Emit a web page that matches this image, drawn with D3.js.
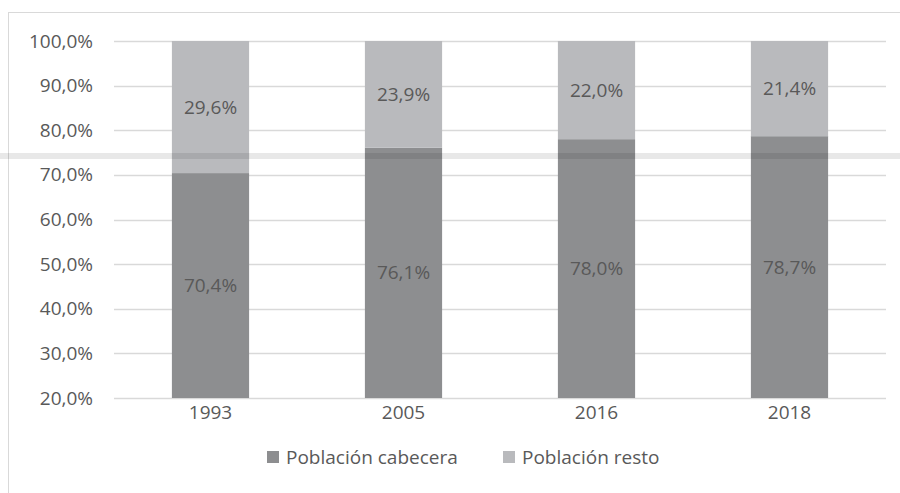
<!DOCTYPE html>
<html>
<head>
<meta charset="utf-8">
<script src="https://cdn.jsdelivr.net/npm/d3@7"></script>
<style>
  body { margin: 0; background: #fff; }
  svg { display: block; font-family: "Open Sans", "Noto Sans", sans-serif; }
</style>
</head>
<body>
<div id="chart"></div>
<script>
const [width, height] = [900, 493];

// data
const years = ["1993", "2005", "2016", "2018"];
const cabecera = [70.4, 76.1, 78.0, 78.7];
const resto = [29.6, 23.9, 22.0, 21.4];
const yTicks = [20, 30, 40, 50, 60, 70, 80, 90, 100];
const seriesNames = ["Población cabecera", "Población resto"];
const colors = ["#8d8e90", "#b9babd"];

const margin = { top: 41, right: 14, bottom: 95, left: 114 };
const fontSize = "19px";

const svg = d3.select("#chart")
  .append("svg")
  .attr("width", width)
  .attr("height", height);

// chart border
svg.append("rect")
  .attr("x", 8.5).attr("y", 12.5)
  .attr("width", 900).attr("height", 500)
  .attr("fill", "none")
  .attr("stroke", "#d9d9d9");

const x = d3.scaleBand()
  .domain(years)
  .range([margin.left, width - margin.right])
  .paddingInner(0.6)
  .paddingOuter(0.3);

const y = d3.scaleLinear()
  .domain([20, 100])
  .range([height - margin.bottom, margin.top]);

const fmt = v => d3.format(".1f")(v).replace(".", ",") + "%";

// gridlines
svg.append("g")
  .selectAll("line")
  .data(yTicks)
  .join("line")
  .attr("x1", margin.left)
  .attr("x2", width - margin.right)
  .attr("y1", d => Math.round(y(d)) + 0.5)
  .attr("y2", d => Math.round(y(d)) + 0.5)
  .attr("stroke", "#d9d9d9")
  .attr("stroke-width", 1.5);

// y axis labels
const yAxis = d3.axisLeft(y).tickValues(yTicks).tickSize(0).tickPadding(21).tickFormat(fmt);
const gy = svg.append("g")
  .attr("transform", `translate(${margin.left},0)`)
  .call(yAxis);
gy.select(".domain").remove();
gy.selectAll("text")
  .attr("fill", "#595959")
  .style("font-size", fontSize)
  .style("font-family", "'Open Sans', sans-serif");

// stacked data
const rows = years.map((yr, i) => ({ year: yr, cabecera: cabecera[i], resto: resto[i] }));
const stack = d3.stack().keys(["cabecera", "resto"]);
const stacked = stack(rows);

const layers = svg.append("g")
  .selectAll("g")
  .data(stacked)
  .join("g")
  .attr("fill", (d, i) => colors[i]);

layers.selectAll("rect")
  .data(d => d)
  .join("rect")
  .attr("x", d => x(d.data.year))
  .attr("width", x.bandwidth())
  .attr("y", d => y(Math.min(100, d[1])))
  .attr("height", d => y(Math.max(20, d[0])) - y(d[1]));

// value labels
layers.selectAll("text")
  .data(d => d.map(v => ({ v, key: d.key })))
  .join("text")
  .attr("x", d => x(d.v.data.year) + x.bandwidth() / 2)
  .attr("y", d => {
    const lo = d.key === "cabecera" ? 20 : d.v[0];
    return (y(lo) + y(d.v[1])) / 2;
  })
  .attr("text-anchor", "middle")
  .attr("dy", "0.35em")
  .attr("fill", "#595959")
  .style("font-size", fontSize)
  .text(d => fmt(d.v.data[d.key]));

// x axis labels
const gx = svg.append("g")
  .attr("transform", `translate(0,${height - margin.bottom})`)
  .call(d3.axisBottom(x).tickSize(0).tickPadding(8));
gx.select(".domain").remove();
gx.selectAll("text")
  .attr("fill", "#595959")
  .style("font-size", fontSize)
  .style("font-family", "'Open Sans', sans-serif");

// legend
const legendX = [267, 503];
const legend = svg.append("g")
  .selectAll("g")
  .data(seriesNames)
  .join("g")
  .attr("transform", (d, i) => `translate(${legendX[i]},457)`);
legend.append("rect")
  .attr("x", 0).attr("y", -6)
  .attr("width", 12).attr("height", 12)
  .attr("fill", (d, i) => colors[i]);
legend.append("text")
  .attr("x", 19)
  .attr("dy", "0.35em")
  .attr("fill", "#595959")
  .style("font-size", fontSize)
  .text(d => d);

// watermark band across the picture
svg.append("rect")
  .attr("x", 0).attr("y", 153)
  .attr("width", width).attr("height", 6)
  .attr("fill", "#000")
  .attr("opacity", 0.09);
</script>
</body>
</html>
